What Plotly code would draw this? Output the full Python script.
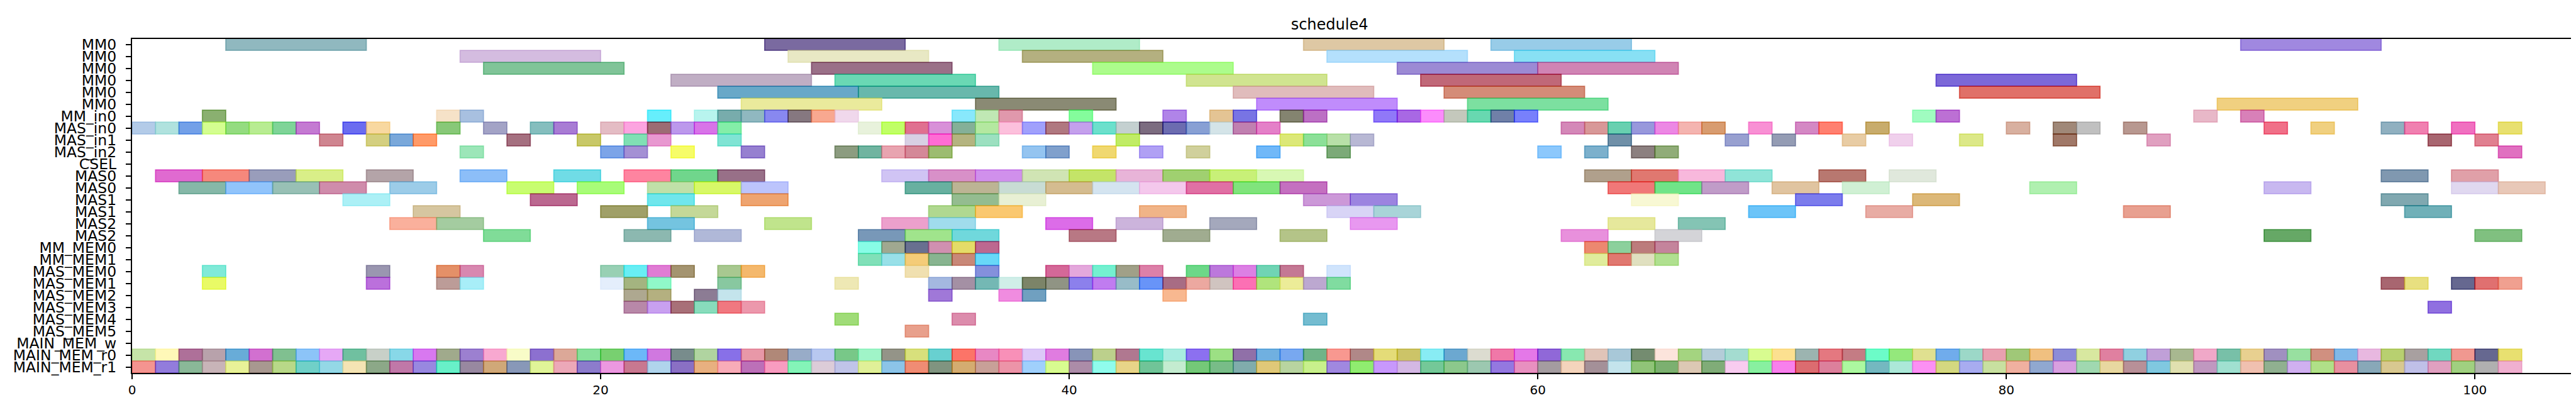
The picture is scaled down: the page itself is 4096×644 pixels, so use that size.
import plotly.graph_objects as go

# ---------------- data ----------------
row_labels = ["MM0", "MM0", "MM0", "MM0", "MM0", "MM0", "MM_in0", "MAS_in0", "MAS_in1",
              "MAS_in2", "CSEL", "MAS0", "MAS0", "MAS1", "MAS1", "MAS2", "MAS2",
              "MM_MEM0", "MM_MEM1", "MAS_MEM0", "MAS_MEM1", "MAS_MEM2", "MAS_MEM3",
              "MAS_MEM4", "MAS_MEM5", "MAIN_MEM_w", "MAIN_MEM_r0", "MAIN_MEM_r1"]

x_ticks = [0, 20, 40, 60, 80, 100]

# each task: (start, end, colour)
mm0_a = [(4, 10, "#90b8bf"), (27, 33, "#7a6aa0"), (37, 43, "#b0ecc8"), (50, 56, "#dec8a4"),
         (58, 64, "#98cce8"), (90, 96, "#a088e0")]
mm0_b = [(14, 20, "#d4bce0"), (28, 34, "#e8e8c4"), (38, 44, "#b4b080"), (51, 57, "#b4e0fc"),
         (59, 65, "#88e0f4")]
mm0_c = [(15, 21, "#80c498"), (29, 35, "#9a7088"), (41, 47, "#acfc8c"), (54, 60, "#9c8ad4"),
         (60, 66, "#d084b4")]
mm0_d = [(23, 29, "#c0aec4"), (30, 36, "#6ad8b4"), (45, 51, "#d0e490"), (55, 61, "#c06878"),
         (77, 83, "#7c68d8")]
mm0_e = [(25, 31, "#68a8c8"), (31, 37, "#68b8ac"), (47, 53, "#e0bcbc"), (56, 62, "#d48c78"),
         (78, 84, "#e07068")]
mm0_f = [(26, 32, "#eaea9c"), (36, 42, "#8a8a74"), (48, 54, "#c08cfc"), (57, 63, "#7ce0a0"),
         (89, 95, "#f0d080")]
mm_in0 = [(3, 4, "#8ab070"), (13, 14, "#f6e2c8"), (14, 15, "#a8c0e0"), (22, 23, "#66eefc"),
          (24, 25, "#b8f4ee"), (25, 26, "#78acac"), (26, 27, "#90b8c0"), (27, 28, "#8888f0"),
          (28, 29, "#867880"), (29, 30, "#f8a890"), (30, 31, "#f0d8ec"), (35, 36, "#88e8fc"),
          (36, 37, "#c0e8b4"), (37, 38, "#e098ac"), (40, 41, "#84fc9c"), (44, 45, "#b084e8"),
          (46, 47, "#e4c494"), (47, 48, "#7874e4"), (49, 50, "#848470"), (50, 51, "#bc70c4"),
          (53, 54, "#9078f8"), (54, 55, "#a868e4"), (55, 56, "#fc8cfc"), (56, 57, "#c4c8bc"),
          (57, 58, "#68d8b0"), (58, 59, "#7080a8"), (59, 60, "#7880fc"), (76, 77, "#a0fcc0"),
          (77, 78, "#bc70d4"), (88, 89, "#e8b8c8"), (90, 91, "#d880b8")]
mas_in0 = [(0, 1, "#b3cbe8"), (1, 2, "#b0e2de"), (2, 3, "#73a0e8"), (3, 4, "#d4fe90"),
           (4, 5, "#94dc80"), (5, 6, "#b8ec92"), (6, 7, "#7fd498"), (7, 8, "#c47ad2"),
           (9, 10, "#6b6cf0"), (10, 11, "#f8d8a0"), (13, 14, "#88c878"), (15, 16, "#a3a3c6"),
           (17, 18, "#85bebe"), (18, 19, "#a87cd4"), (20, 21, "#e4bcc4"), (21, 22, "#fca4e0"),
           (22, 23, "#9c6c74"), (23, 24, "#bc98ec"), (24, 25, "#d874e8"), (25, 26, "#84eea8"),
           (31, 32, "#e8f2dc"), (32, 33, "#c0ff60"), (33, 34, "#e07090"), (34, 35, "#d890d8"),
           (35, 36, "#84b098"), (36, 37, "#b4e8a0"), (37, 38, "#fcc0dc"), (38, 39, "#a0a0fc"),
           (39, 40, "#b07880"), (40, 41, "#c4a0ec"), (41, 42, "#6ce0cc"), (42, 43, "#c4d0d0"),
           (43, 44, "#7c6c80"), (44, 45, "#6c6cb0"), (45, 46, "#88a0d4"), (46, 47, "#d4e4e8"),
           (47, 48, "#c080b0"), (48, 49, "#e480c8"), (61, 62, "#d488b8"), (62, 63, "#d89898"),
           (63, 64, "#68d0b0"), (64, 65, "#9898dc"), (65, 66, "#ec88e4"), (66, 67, "#f4b4b0"),
           (67, 68, "#d89c70"), (69, 70, "#f890d4"), (71, 72, "#d488c4"), (72, 73, "#ff8070"),
           (74, 75, "#c8ac6c"), (80, 81, "#d8b0a0"), (82, 83, "#a08878"), (83, 84, "#c0c0c0"),
           (85, 86, "#b89890"), (91, 92, "#f07088"), (93, 94, "#f0d080"), (96, 97, "#90b0c0"),
           (97, 98, "#f080b0"), (99, 100, "#f070c0"), (101, 102, "#e8e070")]
mas_in1 = [(8, 9, "#cf8590"), (10, 11, "#d4cf80"), (11, 12, "#7aa8da"), (12, 13, "#ff9a68"),
           (16, 17, "#a57080"), (19, 20, "#c8c868"), (21, 22, "#80e0b4"), (22, 23, "#e898d0"),
           (25, 26, "#80e4d4"), (33, 34, "#d8d0e4"), (34, 35, "#ff6cd4"), (35, 36, "#b4b480"),
           (36, 37, "#9ce0c0"), (42, 43, "#c0ec60"), (49, 50, "#dce878"), (50, 51, "#8ce098"),
           (51, 52, "#b8e0a8"), (52, 53, "#b8b8d4"), (63, 64, "#7090a8"), (68, 69, "#98a0d0"),
           (70, 71, "#949cb4"), (73, 74, "#e8cca4"), (75, 76, "#f0d0ec"), (78, 79, "#dce888"),
           (82, 83, "#a07868"), (86, 87, "#e0a0c0"), (98, 99, "#a86070"), (100, 101, "#e08090")]
mas_in2 = [(14, 15, "#9ce6b8"), (20, 21, "#7ca4e8"), (21, 22, "#a490d4"), (23, 24, "#f6fc68"),
           (26, 27, "#9680d0"), (30, 31, "#8c9c80"), (31, 32, "#70b4a0"), (32, 33, "#e8a4b0"),
           (33, 34, "#d48898"), (34, 35, "#9cbc70"), (38, 39, "#94c4f0"), (39, 40, "#80a0cc"),
           (41, 42, "#f0d870"), (43, 44, "#b0a0f4"), (45, 46, "#d0d09c"), (48, 49, "#70b8f8"),
           (51, 52, "#7caa78"), (60, 61, "#8cc8fc"), (62, 63, "#7cb0cc"), (64, 65, "#8c8080"),
           (65, 66, "#90ac78"), (101, 102, "#e070c0")]
csel = []
mas0_a = [(1, 3, "#e06ad0"), (3, 5, "#f6887c"), (5, 7, "#999dbb"), (7, 9, "#d9ef88"),
          (10, 12, "#b4a4a8"), (14, 16, "#8cbef8"), (18, 20, "#70dce6"), (21, 23, "#fe84a0"),
          (23, 25, "#70d68c"), (25, 27, "#987088"), (32, 34, "#d0c4f4"), (34, 36, "#d890c8"),
          (36, 38, "#d090ec"), (38, 40, "#d0e4b4"), (40, 42, "#c4e468"), (42, 44, "#e8b4d8"),
          (44, 46, "#a0d070"), (46, 48, "#c8f078"), (48, 50, "#d8f8b4"), (62, 64, "#b0a08c"),
          (64, 66, "#e07870"), (66, 68, "#f8b8dc"), (68, 70, "#90e4d8"), (72, 74, "#b87870"),
          (75, 77, "#e0e8dc"), (96, 98, "#8098b0"), (99, 101, "#e0a0a8")]
mas0_b = [(2, 4, "#86b8a8"), (4, 6, "#91c4fb"), (6, 8, "#98c0b5"), (8, 10, "#cf8cab"),
          (11, 13, "#9ccce8"), (16, 18, "#c8fd70"), (19, 21, "#a8fc78"), (22, 24, "#c0e0a8"),
          (24, 26, "#d8f868"), (26, 28, "#bcc4fc"), (33, 35, "#68b0a0"), (35, 37, "#bcb494"),
          (37, 39, "#c8dcd4"), (39, 41, "#d4bc90"), (41, 43, "#d4e4f0"), (43, 45, "#f4c8ec"),
          (45, 47, "#e070a4"), (47, 49, "#80e47c"), (49, 51, "#c470c0"), (63, 65, "#f07878"),
          (65, 67, "#70e488"), (67, 69, "#c09cc8"), (70, 72, "#e0c4a0"), (73, 75, "#d0f0d4"),
          (81, 83, "#b0f0b0"), (91, 93, "#c8b8f0"), (99, 101, "#e0d8f0"), (101, 103, "#e8c8b8")]
mas1_a = [(9, 11, "#acf0f6"), (17, 19, "#bb6890"), (22, 24, "#70e6ec"), (26, 28, "#eea470"),
          (35, 37, "#94bc90"), (37, 39, "#e8f0d4"), (50, 52, "#cc98d8"), (52, 54, "#9c84e0"),
          (64, 66, "#f8f8d4"), (71, 73, "#7c7cec"), (76, 78, "#dcb878"), (96, 98, "#80a8b0")]
mas1_b = [(12, 14, "#d6c6a0"), (20, 22, "#a0a068"), (23, 25, "#c4d898"), (34, 36, "#b0d890"),
          (36, 38, "#fac870"), (43, 45, "#f0b488"), (51, 53, "#d8d4f6"), (53, 55, "#a8d4d8"),
          (69, 71, "#6cc4f8"), (74, 76, "#e8aca4"), (85, 87, "#e8a090"), (97, 99, "#70b0b8")]
mas2_a = [(11, 13, "#fab09c"), (13, 15, "#a4cca0"), (22, 24, "#74c4e0"), (27, 29, "#c0e48c"),
          (32, 34, "#eca0cc"), (34, 36, "#a0dcec"), (39, 41, "#dc6ce8"), (42, 44, "#ccb4dc"),
          (46, 48, "#a4a8bc"), (52, 54, "#e898f0"), (63, 65, "#e6e89c"), (66, 68, "#84c4b4")]
mas2_b = [(15, 17, "#80dc98"), (21, 23, "#8cb8b0"), (24, 26, "#b0b8d8"), (31, 33, "#7898b8"),
          (33, 35, "#a0e48c"), (35, 37, "#70d8dc"), (40, 42, "#b87884"), (44, 46, "#a0ac90"),
          (49, 51, "#b4c488"), (61, 63, "#e890dc"), (65, 67, "#d4d4d8"), (91, 93, "#60a860"),
          (100, 102, "#80c080")]
mm_mem0 = [(31, 32, "#88fce6"), (32, 33, "#a0a890"), (33, 34, "#687090"), (34, 35, "#d090b0"),
           (35, 36, "#e4dc68"), (36, 37, "#bc6890"), (62, 63, "#ec8870"), (63, 64, "#8cd09c"),
           (64, 65, "#bc7c7c"), (65, 66, "#c4849c")]
mm_mem1 = [(31, 32, "#80e0b8"), (32, 33, "#98e0e8"), (33, 34, "#f4cc78"), (34, 35, "#88b490"),
           (35, 36, "#c88878"), (36, 37, "#68d8f8"), (62, 63, "#e0ec9c"), (63, 64, "#e07870"),
           (64, 65, "#e0e0c0"), (65, 66, "#b0e090")]
mas_mem0 = [(3, 4, "#80ead8"), (10, 11, "#9a96b0"), (13, 14, "#e49068"), (14, 15, "#d888b0"),
            (20, 21, "#98d0b4"), (21, 22, "#68eef4"), (22, 23, "#e07cd4"), (23, 24, "#a49470"),
            (25, 26, "#a8c890"), (26, 27, "#f4b86c"), (33, 34, "#f0e0b0"), (36, 37, "#8490dc"),
            (39, 40, "#d46898"), (40, 41, "#e4a8dc"), (41, 42, "#74f0d0"), (42, 43, "#a0a088"),
            (43, 44, "#dc80a8"), (45, 46, "#6cd888"), (46, 47, "#bc78dc"), (47, 48, "#dc80e4"),
            (48, 49, "#70d4b4"), (49, 50, "#c47894"), (51, 52, "#d0e4fc")]
mas_mem1 = [(3, 4, "#e9fa60"), (10, 11, "#bb70dc"), (13, 14, "#bc9c98"), (14, 15, "#a8eef8"),
            (20, 21, "#e4eefc"), (21, 22, "#a4b480"), (22, 23, "#90f8c8"), (25, 26, "#88c8a0"),
            (30, 31, "#eee8b4"), (34, 35, "#a4b8e0"), (35, 36, "#a490a4"), (36, 37, "#74b8b4"),
            (37, 38, "#d0eee8"), (38, 39, "#7c8468"), (39, 40, "#909484"), (40, 41, "#8c80ec"),
            (41, 42, "#c07cf0"), (42, 43, "#98bcc8"), (43, 44, "#6894f8"), (44, 45, "#a86c84"),
            (45, 46, "#eca8a0"), (46, 47, "#d0c4c0"), (47, 48, "#fc70b4"), (48, 49, "#b0e47c"),
            (49, 50, "#ecec98"), (50, 51, "#bca8d0"), (51, 52, "#80dca0"), (96, 97, "#a86070"),
            (97, 98, "#e8e080"), (99, 100, "#606890"), (100, 101, "#e07070"), (101, 102, "#f0a090")]
mas_mem2 = [(21, 22, "#aea890"), (22, 23, "#b4b080"), (24, 25, "#8c7c94"), (25, 26, "#c4e4ec"),
            (34, 35, "#a078d8"), (37, 38, "#f08ce0"), (38, 39, "#70a0c0"), (44, 45, "#f8b890")]
mas_mem3 = [(21, 22, "#b888a8"), (22, 23, "#c8a0f0"), (23, 24, "#a87078"), (24, 25, "#88dcbc"),
            (25, 26, "#f07880"), (26, 27, "#ec98ac"), (98, 99, "#9070e0")]
mas_mem4 = [(30, 31, "#a0dc78"), (35, 36, "#dc8cac"), (50, 51, "#74bcd0")]
mas_mem5 = [(33, 34, "#e8a08c")]
main_mem_w = []
main_mem_r0 = [(0, 1, "#c6e4a8"), (1, 2, "#fff8b8"), (2, 3, "#ae7099"), (3, 4, "#b8a2ab"),
               (4, 5, "#68acd8"), (5, 6, "#d270d0"), (6, 7, "#80c090"), (7, 8, "#8cc4f8"),
               (8, 9, "#e6a8f6"), (9, 10, "#70c0a0"), (10, 11, "#c8d0c8"), (11, 12, "#88d8e8"),
               (12, 13, "#d878f0"), (13, 14, "#a0aa8c"), (14, 15, "#9c80d0"), (15, 16, "#f8a8d0"),
               (16, 17, "#f8fcc8"), (17, 18, "#8c70d0"), (18, 19, "#dca898"), (19, 20, "#88e09c"),
               (20, 21, "#78d070"), (21, 22, "#6cb8f8"), (22, 23, "#d078e0"), (23, 24, "#788c8c"),
               (24, 25, "#b0d4a0"), (25, 26, "#8870e8"), (26, 27, "#e898a8"), (27, 28, "#b08878"),
               (28, 29, "#98acc8"), (29, 30, "#b8c8f0"), (30, 31, "#78c888"), (31, 32, "#a0f4c8"),
               (32, 33, "#949488"), (33, 34, "#d8e07c"), (34, 35, "#68d0d0"), (35, 36, "#fc7468"),
               (36, 37, "#e888c4"), (37, 38, "#f890b8"), (38, 39, "#dcc8f8"), (39, 40, "#e07ce0"),
               (40, 41, "#8894b8"), (41, 42, "#bcd08c"), (42, 43, "#b07890"), (43, 44, "#68e4d0"),
               (44, 45, "#a8ece0"), (45, 46, "#8c70f0"), (46, 47, "#9ce084"), (47, 48, "#9070a8"),
               (48, 49, "#70b0e0"), (49, 50, "#78a8f0"), (50, 51, "#70b488"), (51, 52, "#f89890"),
               (52, 53, "#b08888"), (53, 54, "#e4dc78"), (54, 55, "#ccc468"), (55, 56, "#88ecf4"),
               (56, 57, "#6ca8d0"), (57, 58, "#dcdcd0"), (58, 59, "#f078a8"), (59, 60, "#e478e8"),
               (60, 61, "#9068d8"), (61, 62, "#88e8b0"), (62, 63, "#e0c4b8"), (63, 64, "#a8c8d8"),
               (64, 65, "#748c70"), (65, 66, "#fce4dc"), (66, 67, "#a4d480"), (67, 68, "#b4ccd8"),
               (68, 69, "#a4dcd0"), (69, 70, "#d8fc90"), (70, 71, "#fce090"), (71, 72, "#9cb4b0"),
               (72, 73, "#e47880"), (73, 74, "#c47c84"), (74, 75, "#6cfcc8"), (75, 76, "#94e87c"),
               (76, 77, "#e0e090"), (77, 78, "#70acec"), (78, 79, "#9cd8c8"), (79, 80, "#e8a0b0"),
               (80, 81, "#a0c878"), (81, 82, "#f0c080"), (82, 83, "#8c8cd8"), (83, 84, "#d8e8a0"),
               (84, 85, "#e080a0"), (85, 86, "#90d0e0"), (86, 87, "#c0a0d8"), (87, 88, "#a8b890"),
               (88, 89, "#f0a8c8"), (89, 90, "#78c0a8"), (90, 91, "#e8d090"), (91, 92, "#a090c0"),
               (92, 93, "#98e0a0"), (93, 94, "#d09080"), (94, 95, "#80b8e8"), (95, 96, "#e8b8e0"),
               (96, 97, "#b8d070"), (97, 98, "#a8a0a0"), (98, 99, "#70d8c0"), (99, 100, "#f09890"),
               (100, 101, "#606890"), (101, 102, "#e8e070")]
main_mem_r1 = [(0, 1, "#f49490"), (1, 2, "#927cdc"), (2, 3, "#8ab898"), (3, 4, "#c8b4b8"),
               (4, 5, "#e8f298"), (5, 6, "#a89890"), (6, 7, "#b8d888"), (7, 8, "#70d0c8"),
               (8, 9, "#94d8e6"), (9, 10, "#f4e4b4"), (10, 11, "#8ca888"), (11, 12, "#c078a8"),
               (12, 13, "#9888e0"), (13, 14, "#68f0c8"), (14, 15, "#9888a0"), (15, 16, "#d0a878"),
               (16, 17, "#8898b8"), (17, 18, "#e0f498"), (18, 19, "#eca8b8"), (19, 20, "#8c7ccc"),
               (20, 21, "#ec98e0"), (21, 22, "#c87890"), (22, 23, "#b0d4ec"), (23, 24, "#8a70c4"),
               (24, 25, "#e8b080"), (25, 26, "#f8acb8"), (26, 27, "#bc70b8"), (27, 28, "#f89cc0"),
               (28, 29, "#84f4b8"), (29, 30, "#dcccd8"), (30, 31, "#c0c4e8"), (31, 32, "#e0f098"),
               (32, 33, "#8cc4e8"), (33, 34, "#f08c74"), (34, 35, "#809480"), (35, 36, "#d4ac70"),
               (36, 37, "#c8a098"), (37, 38, "#ec94a8"), (38, 39, "#a0d0fc"), (39, 40, "#d8fc90"),
               (40, 41, "#ac8ca8"), (41, 42, "#90fcec"), (42, 43, "#e8d488"), (43, 44, "#70c498"),
               (44, 45, "#c4ecd0"), (45, 46, "#74c878"), (46, 47, "#78bc88"), (47, 48, "#80acac"),
               (48, 49, "#e0c878"), (49, 50, "#b8d4a0"), (50, 51, "#c8f08c"), (51, 52, "#a088e0"),
               (52, 53, "#90ec70"), (53, 54, "#c898fc"), (54, 55, "#d4b8e4"), (55, 56, "#74c898"),
               (56, 57, "#8cc88c"), (57, 58, "#9cc8b0"), (58, 59, "#9478e0"), (59, 60, "#e890c0"),
               (60, 61, "#a49ca0"), (61, 62, "#f4d4bc"), (62, 63, "#a49098"), (63, 64, "#c4e4ec"),
               (64, 65, "#90c478"), (65, 66, "#7cb070"), (66, 67, "#dcc8b4"), (67, 68, "#80ac78"),
               (68, 69, "#f8ccf0"), (69, 70, "#88f0a0"), (70, 71, "#f880ec"), (71, 72, "#dc6c70"),
               (72, 73, "#dc809c"), (73, 74, "#acf8a0"), (74, 75, "#74b8c0"), (75, 76, "#ace8d8"),
               (76, 77, "#fc90f4"), (77, 78, "#d4d880"), (78, 79, "#a8acf0"), (79, 80, "#c8e0a0"),
               (80, 81, "#f0b0a0"), (81, 82, "#90a8d0"), (82, 83, "#d8a0e0"), (83, 84, "#a0d8b0"),
               (84, 85, "#e8d8a0"), (85, 86, "#b89098"), (86, 87, "#80c8e0"), (87, 88, "#e0e0b0"),
               (88, 89, "#c098c0"), (89, 90, "#a0e0d0"), (90, 91, "#f0c0b0"), (91, 92, "#90b090"),
               (92, 93, "#d0b0f0"), (93, 94, "#b0e088"), (94, 95, "#e890a0"), (95, 96, "#88a8b8"),
               (96, 97, "#d8c890"), (97, 98, "#c0c0e8"), (98, 99, "#e0a0c0"), (99, 100, "#a0d080"),
               (100, 101, "#b0b0b0"), (101, 102, "#f0b0d0")]

rows = [mm0_a, mm0_b, mm0_c, mm0_d, mm0_e, mm0_f, mm_in0, mas_in0, mas_in1, mas_in2, csel,
        mas0_a, mas0_b, mas1_a, mas1_b, mas2_a, mas2_b, mm_mem0, mm_mem1, mas_mem0, mas_mem1,
        mas_mem2, mas_mem3, mas_mem4, mas_mem5, main_mem_w, main_mem_r0, main_mem_r1]

# ---------------- styling helpers ----------------
ALPHA = 0.6


def base_rgba(hex_col, alpha=ALPHA):
    """Colour that, at the given alpha over white, shows as hex_col."""
    h = hex_col.lstrip("#")
    vis = [int(h[i:i + 2], 16) for i in (0, 2, 4)]
    base = [max(0, min(255, round((v - (1 - alpha) * 255) / alpha))) for v in vis]
    return "rgba(%d,%d,%d,%.2f)" % (base[0], base[1], base[2], alpha)


fig = go.Figure()
for idx, tasks in enumerate(rows):
    if not tasks:
        continue
    starts = [t[0] for t in tasks]
    durs = [t[1] - t[0] for t in tasks]
    cols = [base_rgba(t[2]) for t in tasks]
    fig.add_trace(go.Bar(
        orientation="h",
        y=[idx] * len(tasks),
        x=durs,
        base=starts,
        width=1.0,
        marker=dict(color=cols, line=dict(color=cols, width=1.7)),
        showlegend=False,
        hoverinfo="skip",
    ))

FONT = "DejaVu Sans"
fig.update_layout(
    width=4096, height=644,
    margin=dict(l=202, r=16, t=54, b=59),
    paper_bgcolor="white", plot_bgcolor="white",
    barmode="overlay",
    font=dict(family=FONT, color="black"),
    title=dict(text="schedule4", x=0.491, xref="paper", xanchor="center",
               y=1 - 31 / 644, yref="container", yanchor="middle",
               font=dict(family=FONT, size=24, color="black")),
)
fig.update_xaxes(
    range=[0, 104.1], tickvals=x_ticks, ticktext=[str(v) for v in x_ticks],
    showgrid=False, zeroline=False, showline=True, mirror=True,
    linecolor="black", linewidth=2.3, ticks="outside", ticklen=8, tickwidth=1.7,
    tickcolor="black", tickfont=dict(family=FONT, size=20, color="black"),
)
fig.update_yaxes(
    range=[27.5, -0.45], tickvals=list(range(len(row_labels))), ticktext=row_labels,
    showgrid=False, zeroline=False, showline=True, mirror=True,
    linecolor="black", linewidth=2.3, ticks="outside", ticklen=8, tickwidth=1.7,
    tickcolor="black", tickfont=dict(family=FONT, size=23.5, color="black"),
    ticklabelstandoff=10,
)

fig.write_html("out.html")
